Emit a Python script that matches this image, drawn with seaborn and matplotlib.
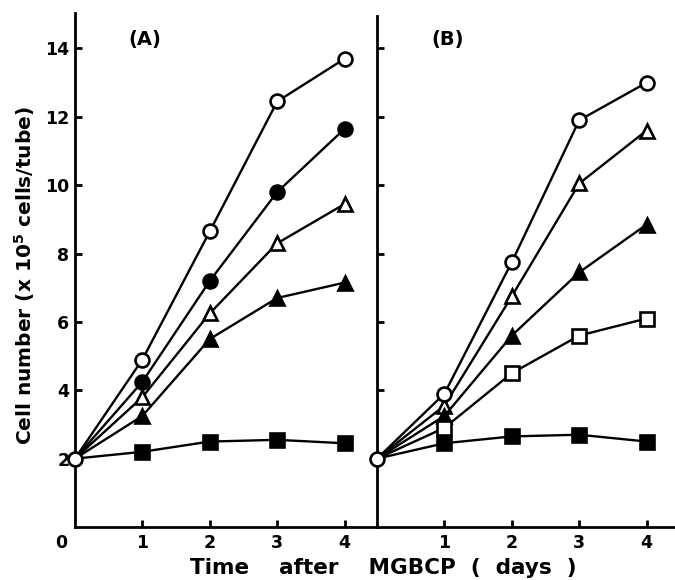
import matplotlib
matplotlib.use("Agg")
import matplotlib.pyplot as plt
import seaborn as sns
import pandas as pd

sns.set_style("ticks")
plt.rcParams["font.family"] = ["DejaVu Sans"]
plt.rcParams["font.weight"] = "bold"
plt.rcParams["mathtext.default"] = "bf"
plt.rcParams.update({"text.color": "black", "axes.edgecolor": "black",
                     "xtick.color": "black", "ytick.color": "black",
                     "axes.labelcolor": "black"})

# ── DATA (cell number, x 10^5 cells/tube)
days = [0, 1, 2, 3, 4]

a_open_circle     = [2.0, 4.9, 8.65, 12.45, 13.7]
a_filled_circle   = [2.0, 4.25, 7.2, 9.8, 11.65]
a_open_triangle   = [2.0, 3.8, 6.25, 8.3, 9.45]
a_filled_triangle = [2.0, 3.25, 5.5, 6.7, 7.15]
a_filled_square   = [2.0, 2.2, 2.5, 2.55, 2.45]

b_open_circle     = [2.0, 3.9, 7.75, 11.9, 13.0]
b_open_triangle   = [2.0, 3.55, 6.75, 10.05, 11.6]
b_filled_triangle = [2.0, 3.25, 5.6, 7.45, 8.85]
b_open_square     = [2.0, 2.9, 4.5, 5.6, 6.1]
b_filled_square   = [2.0, 2.45, 2.65, 2.7, 2.5]

y_ticks = [2, 4, 6, 8, 10, 12, 14]
x_ticks = [1, 2, 3, 4]

# (marker, filled, values) -- open circle last so the shared start point sits on top
panel_a = [
    ("o", True,  a_filled_circle),
    ("^", False, a_open_triangle),
    ("^", True,  a_filled_triangle),
    ("s", True,  a_filled_square),
    ("o", False, a_open_circle),
]
panel_b = [
    ("^", False, b_open_triangle),
    ("^", True,  b_filled_triangle),
    ("s", False, b_open_square),
    ("s", True,  b_filled_square),
    ("o", False, b_open_circle),
]

W, H = 675, 580
fig = plt.figure(figsize=(W / 100, H / 100), dpi=100)
axA = fig.add_axes([75 / W, 53 / H, 302 / W, 514 / H])
axB = fig.add_axes([377 / W, 53 / H, 298 / W, 511 / H])

px_unit_y = 34.18
px_unit_x = 67.4


def draw(ax, series):
    for i, (mk, filled, vals) in enumerate(series):
        df = pd.DataFrame({"day": days, "cells": vals})
        is_start = (mk == "o" and not filled)
        sns.lineplot(data=df, x="day", y="cells", ax=ax, color="black",
                     linewidth=1.7, marker=mk,
                     markersize={"o": 10, "^": 10, "s": 10.5}[mk],
                     markerfacecolor="black" if filled else "white",
                     markeredgecolor="black", markeredgewidth=1.9,
                     markevery=None if is_start else [1, 2, 3, 4],
                     zorder=5 + i, clip_on=False)


draw(axA, panel_a)
draw(axB, panel_b)

for ax, hpx, wpx in [(axA, 514, 302), (axB, 511, 298)]:
    ax.set_ylim(0, hpx / px_unit_y)
    ax.set_xlim(0, wpx / px_unit_x)
    ax.set_yticks(y_ticks)
    ax.set_xticks(x_ticks)
    ax.set_xlabel(""); ax.set_ylabel("")
    ax.patch.set_alpha(0)
    for s in ["top", "right"]:
        ax.spines[s].set_visible(False)
    for s in ["left", "bottom"]:
        ax.spines[s].set_linewidth(2)
    ax.tick_params(direction="in", length=5, width=2, labelsize=12.5)
    ax.tick_params(axis="y", pad=4)
    ax.tick_params(axis="x", pad=5)

axB.set_yticklabels([])
for lab in axA.get_xticklabels() + axA.get_yticklabels() + axB.get_xticklabels():
    lab.set_fontweight("bold")

axA.annotate("0", xy=(0, 0), xytext=(-10, -5), textcoords="offset points",
             ha="center", va="top", fontsize=12.5, fontweight="bold")

axA.text(1.04, 14.25, "(A)", ha="center", va="center", fontsize=14, fontweight="bold")
axB.text(1.05, 14.25, "(B)", ha="center", va="center", fontsize=14, fontweight="bold")

fig.text(25 / W, 1 - 276 / H, "Cell number (x 10$^{5}$ cells/tube)",
         rotation=90, ha="center", va="center", fontsize=14.5, fontweight="bold")
fig.text(383 / W, 12 / H, "Time    after    MGBCP  (  days  )",
         ha="center", va="center", fontsize=15.5, fontweight="bold")

fig.savefig("out.png", dpi=100)
